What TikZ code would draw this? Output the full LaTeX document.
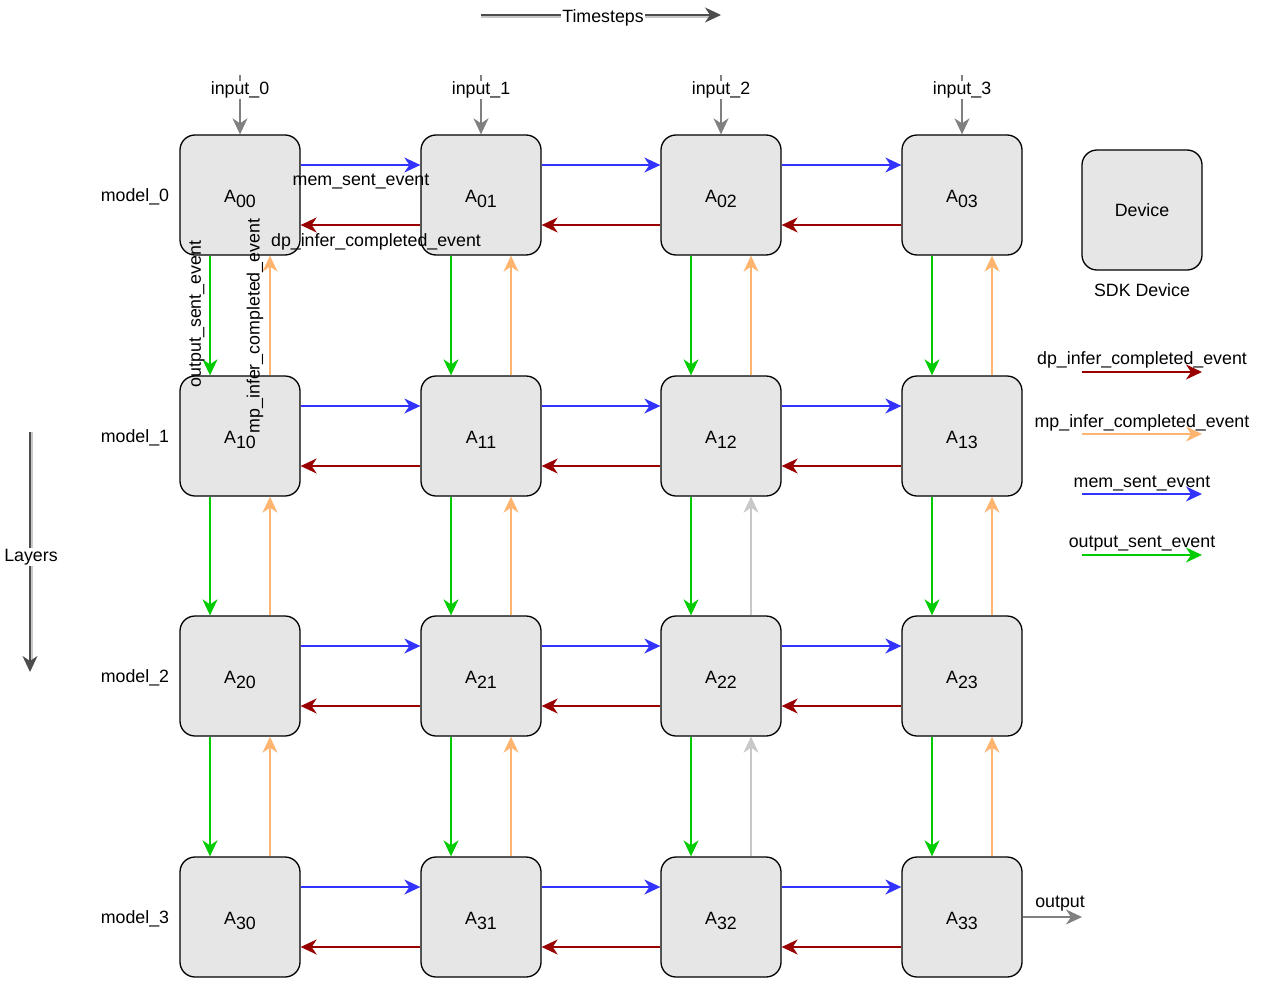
\documentclass[tikz,border=0pt]{standalone}
\usepackage{fontspec}
\setmainfont{Liberation Sans}
\usetikzlibrary{arrows.meta}
\definecolor{cblue}{HTML}{3333FF}
\definecolor{cred}{HTML}{990000}
\definecolor{corange}{HTML}{FFB570}
\definecolor{cgreen}{HTML}{00CC00}
\definecolor{cgray}{HTML}{808080}
\definecolor{cfill}{HTML}{E6E6E6}
\definecolor{cdark}{HTML}{4D4D4D}
\definecolor{clight}{HTML}{C8C8C8}
\newcommand{\cellname}[1]{\raisebox{-7pt}[0pt][0pt]{A\raisebox{-5pt}{#1}}}
\begin{document}
\begin{tikzpicture}[x=1pt,y=-1pt,
  font=\fontsize{17.8}{21}\selectfont,
  tip/.style={-{Stealth[length=16pt,width=15pt,inset=5pt]}},
  devbox/.style={draw=black,fill=cfill,line width=1.3pt,rounded corners=15pt,minimum width=120pt,minimum height=120pt,inner sep=0pt},
  blueline/.style={tip,draw=cblue,line width=1.5pt},
  redline/.style={tip,draw=cred,line width=1.5pt},
  greenline/.style={tip,draw=cgreen,line width=1.5pt},
  orangeline/.style={tip,draw=corange,line width=1.5pt},
  grayline/.style={tip,draw=cgray,line width=1.5pt},
  lbl/.style={inner sep=1pt},
  wlbl/.style={fill=white,inner sep=1pt}
]
\useasboundingbox (0,0) rectangle (1268,982);

% grid nodes
\foreach \r/\y in {0/195,1/436,2/676,3/917}{
  \foreach \c/\x in {0/240,1/481,2/721,3/962}{
    \node[devbox] (A\r\c) at (\x,\y) {\cellname{\r\c}};
  }
  \node[lbl] (m\r) at (135,\y+2) {model\_\r};
}

% horizontal arrows
\foreach \r in {0,1,2,3}{
  \foreach \c/\n in {0/1,1/2,2/3}{
    \draw[blueline] ([yshift=30pt]A\r\c.east) -- ([yshift=30pt]A\r\n.west);
    \draw[redline] ([yshift=-30pt]A\r\n.west) -- ([yshift=-30pt]A\r\c.east);
  }
}

% vertical arrows
\foreach \r/\n in {0/1,1/2,2/3}{
  \foreach \c in {0,1,3}{
    \draw[greenline] ([xshift=-30pt]A\r\c.south) -- ([xshift=-30pt]A\n\c.north);
    \draw[orangeline] ([xshift=30pt]A\n\c.north) -- ([xshift=30pt]A\r\c.south);
  }
  \draw[greenline,line width=1.1pt] ([xshift=-30pt]A\r2.south) -- ([xshift=-30pt]A\n2.north);
}
\draw[orangeline,line width=1.1pt] ([xshift=30pt]A12.north) -- ([xshift=30pt]A02.south);
\draw[tip,draw=clight,line width=1.1pt] ([xshift=30pt]A22.north) -- ([xshift=30pt]A12.south);
\draw[tip,draw=clight,line width=1.1pt] ([xshift=30pt]A32.north) -- ([xshift=30pt]A22.south);

% edge labels (first cells)
\node[lbl] (lmem) at (361,182) {mem\_sent\_event};
\node[lbl] (ldp) at (376,242) {dp\_infer\_completed\_event};
\node[lbl,rotate=90] (lout) at (197,314) {output\_sent\_event};
\node[lbl,rotate=90] (lmp) at (255,326) {mp\_infer\_completed\_event};

% inputs
\foreach \c/\x in {0/240,1/481,2/721,3/962}{
  \coordinate (in\c) at (\x,75);
  \draw[grayline] (in\c) -- (A0\c.north) node[wlbl,pos=0.25] {input\_\c};
}

% output
\coordinate (outend) at (1082,917);
\draw[grayline] (A33.east) -- (outend);
\node[lbl] (lo) at (1060,904) {output};

% legend device
\node[devbox] (dev) at (1142,210) {Device};
\node[lbl] (sdk) at (1142,290) {SDK Device};

% legend arrows
\coordinate (l1a) at (1082,372); \coordinate (l1b) at (1202,372);
\coordinate (l2a) at (1082,434); \coordinate (l2b) at (1202,434);
\coordinate (l3a) at (1082,494); \coordinate (l3b) at (1202,494);
\coordinate (l4a) at (1082,555); \coordinate (l4b) at (1202,555);
\draw[redline] (l1a) -- (l1b);
\draw[orangeline] (l2a) -- (l2b);
\draw[blueline] (l3a) -- (l3b);
\draw[greenline] (l4a) -- (l4b);
\node[lbl] (t1) at (1142,360) {dp\_infer\_completed\_event};
\node[lbl] (t2) at (1142,423) {mp\_infer\_completed\_event};
\node[lbl] (t3) at (1142,484) {mem\_sent\_event};
\node[lbl] (t4) at (1142,544) {output\_sent\_event};

% Timesteps
\coordinate (ts1) at (481,15);
\coordinate (ts2) at (721,15);
\draw[draw=clight,line width=1.5pt] ([yshift=-2pt]ts1) -- ([yshift=-2pt,xshift=-10pt]ts2);
\draw[tip,draw=cdark,fill=cdark,line width=1.3pt] (ts1) -- (ts2);
\node[wlbl] (tsl) at (603,18) {Timesteps};

% Layers
\coordinate (ly1) at (30,432);
\coordinate (ly2) at (30,672);
\draw[draw=clight,line width=1.5pt] ([xshift=2pt]ly1) -- ([xshift=2pt,yshift=10pt]ly2);
\draw[tip,draw=cdark,fill=cdark,line width=1.3pt] (ly1) -- (ly2);
\node[wlbl] (lyl) at (31,557) {Layers};
\end{tikzpicture}
\end{document}
